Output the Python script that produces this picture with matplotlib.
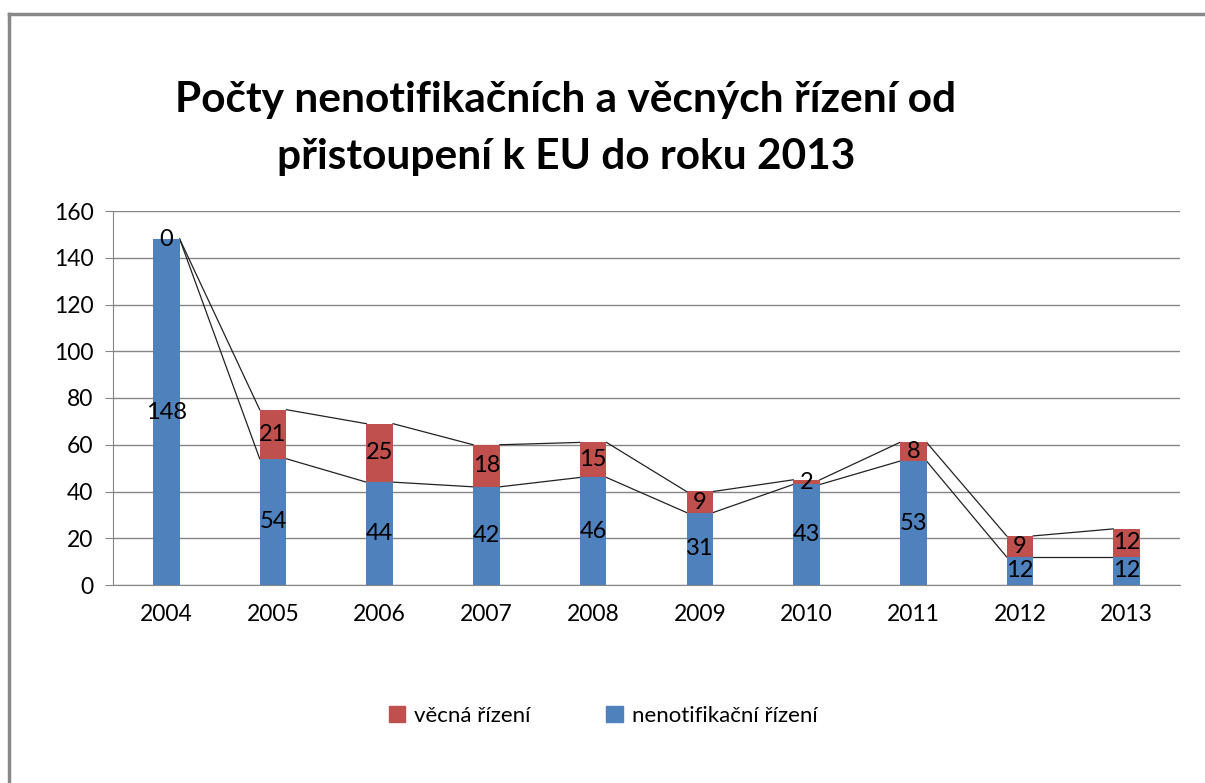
import matplotlib
matplotlib.use("Agg")
import matplotlib.pyplot as plt
from matplotlib.lines import Line2D
from matplotlib.patches import Patch

years = ["2004", "2005", "2006", "2007", "2008", "2009", "2010", "2011", "2012", "2013"]
nenotifikacni = [148, 54, 44, 42, 46, 31, 43, 53, 12, 12]
vecna = [0, 21, 25, 18, 15, 9, 2, 8, 9, 12]
yticks = [0, 20, 40, 60, 80, 100, 120, 140, 160]

BLUE = "#4F81BD"
RED = "#C0504D"
GRID = "#868686"
FONT = "Lato"

plt.rcParams['font.family'] = [FONT, 'DejaVu Sans']

fig = plt.figure(figsize=(12.05, 7.83), dpi=100)
ax = fig.add_axes([113/1205, 1-585/783, (1180-113)/1205, (585-211)/783])

x = list(range(len(years)))
w = 0.25
ax.bar(x, nenotifikacni, width=w, color=BLUE, zorder=3)
ax.bar(x, vecna, width=w, bottom=nenotifikacni, color=RED, zorder=3)

totals = [a + b for a, b in zip(nenotifikacni, vecna)]
for i in range(len(years) - 1):
    ax.plot([i + w/2, i + 1 - w/2], [nenotifikacni[i], nenotifikacni[i+1]], color="#222222", lw=0.9, zorder=2)
    ax.plot([i + w/2, i + 1 - w/2], [totals[i], totals[i+1]], color="#222222", lw=0.9, zorder=2)

for i in x:
    ax.text(i, nenotifikacni[i]/2, str(nenotifikacni[i]), ha="center", va="center", fontsize=17, color="black", zorder=4)
    ax.text(i, nenotifikacni[i] + vecna[i]/2, str(vecna[i]), ha="center", va="center", fontsize=17, color="black", zorder=4)

ax.set_xlim(-0.5, len(years) - 0.5)
ax.set_ylim(0, 160)
ax.set_yticks(yticks)
ax.set_xticks(x)
ax.set_xticklabels(years)
ax.yaxis.grid(True, color=GRID, lw=1, zorder=0)
ax.set_axisbelow(True)
for s in ["top", "right"]:
    ax.spines[s].set_visible(False)
for s in ["left", "bottom"]:
    ax.spines[s].set_color(GRID)
ax.tick_params(axis="y", length=6, color=GRID, labelsize=16.5, pad=8)
ax.tick_params(axis="x", length=0, labelsize=16.5, pad=14)

fig.text(566/1205, 1-100/783, "Počty nenotifikačních a věcných řízení od", ha="center", va="center", fontsize=30.5, fontweight="bold")
fig.text(566/1205, 1-157/783, "přistoupení k EU do roku 2013", ha="center", va="center", fontsize=30.5, fontweight="bold")

handles = [Patch(color=RED, label="věcná řízení"), Patch(color=BLUE, label="nenotifikační řízení")]
fig.legend(handles=handles, loc="center", bbox_to_anchor=(603/1205, 1-716/783), ncol=2, frameon=False,
           fontsize=16, handlelength=0.75, handleheight=0.75, columnspacing=3.4, handletextpad=0.4)

fig.add_artist(Line2D([9/1205, 9/1205], [0, 1-14/783], color="#888888", lw=2.5))
fig.add_artist(Line2D([9/1205, 1], [1-14/783, 1-14/783], color="#888888", lw=2.5))

fig.savefig("out.png", dpi=100)
